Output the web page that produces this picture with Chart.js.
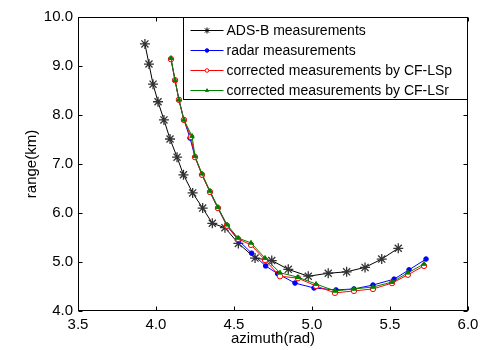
<!DOCTYPE html>
<html>
<head>
  <title>Range vs Azimuth</title>
  <script src="https://cdn.jsdelivr.net/npm/chart.js"></script>
  <style>
    body { margin: 0; background: #fff; }
  </style>
</head>
<body>
  <canvas id="chart" width="487" height="350"></canvas>

  <script>
    const seriesLabels = ['ADS-B measurements', 'radar measurements',
      'corrected measurements by CF-LSp', 'corrected measurements by CF-LSr'];

    const adsbAz = [3.929, 3.955, 3.981, 4.013, 4.051, 4.090, 4.135, 4.176, 4.235, 4.299, 4.361,
      4.442, 4.528, 4.635, 4.742, 4.848, 4.976, 5.104, 5.222, 5.340, 5.447, 5.553];
    const adsbRange = [9.45, 9.04, 8.63, 8.27, 7.90, 7.51, 7.14, 6.78, 6.41, 6.10, 5.79,
      5.70, 5.38, 5.08, 5.03, 4.85, 4.71, 4.77, 4.80, 4.89, 5.06, 5.28];

    const radarAz = [4.096, 4.122, 4.147, 4.179, 4.218, 4.250, 4.295, 4.346, 4.397, 4.455, 4.526,
      4.613, 4.703, 4.780, 4.891, 5.013, 5.154, 5.269, 5.391, 5.526, 5.622, 5.731];
    const radarRange = [9.14, 8.71, 8.31, 7.90, 7.53, 7.14, 6.78, 6.43, 6.10, 5.74, 5.45,
      5.18, 4.92, 4.76, 4.57, 4.47, 4.43, 4.45, 4.53, 4.65, 4.84, 5.06];

    const lspAz = [4.096, 4.122, 4.147, 4.179, 4.224, 4.250, 4.295, 4.346, 4.397, 4.455, 4.526,
      4.609, 4.699, 4.795, 4.910, 5.026, 5.147, 5.269, 5.391, 5.513, 5.615, 5.718];
    const lspRange = [9.14, 8.71, 8.31, 7.90, 7.55, 7.14, 6.78, 6.43, 6.10, 5.74, 5.47,
      5.35, 5.04, 4.71, 4.67, 4.51, 4.37, 4.41, 4.45, 4.57, 4.74, 4.92];

    const lsrAz = [4.096, 4.122, 4.147, 4.179, 4.231, 4.250, 4.295, 4.346, 4.397, 4.455, 4.526,
      4.609, 4.699, 4.795, 4.910, 5.026, 5.147, 5.269, 5.391, 5.513, 5.615, 5.718];
    const lsrRange = [9.16, 8.71, 8.31, 7.90, 7.57, 7.16, 6.80, 6.45, 6.12, 5.76, 5.49,
      5.39, 5.08, 4.78, 4.69, 4.55, 4.41, 4.45, 4.49, 4.59, 4.78, 4.96];

    const xTicks = [3.5, 4.0, 4.5, 5.0, 5.5, 6.0];
    const yTicks = [4, 5, 6, 7, 8, 9, 10];

    function zip(xs, ys) {
      return xs.map((x, i) => ({ x: x, y: ys[i] }));
    }

    // matlab style frame, inward ticks on all sides, legend box in the corner
    const matlabFrame = {
      id: 'matlabFrame',
      afterDraw(chart) {
        const ctx = chart.ctx;
        const a = chart.chartArea;
        const xs = chart.scales.x, ys = chart.scales.y;
        const L = Math.round(a.left) + 0.5, R = Math.round(a.right) - 0.5;
        const T = Math.round(a.top) + 0.5, B = Math.round(a.bottom) - 0.5;
        ctx.save();
        ctx.strokeStyle = '#000';
        ctx.lineWidth = 1;
        ctx.strokeRect(L, T, R - L, B - T);
        ctx.beginPath();
        xTicks.forEach(v => {
          const px = Math.round(xs.getPixelForValue(v)) + 0.5;
          ctx.moveTo(px, B); ctx.lineTo(px, B - 4);
          ctx.moveTo(px, T); ctx.lineTo(px, T + 4);
        });
        yTicks.forEach(v => {
          const py = Math.round(ys.getPixelForValue(v)) + 0.5;
          ctx.moveTo(L, py); ctx.lineTo(L + 4, py);
          ctx.moveTo(R, py); ctx.lineTo(R - 4, py);
        });
        ctx.stroke();

        // legend
        const w = 284, h = 82;
        const lx = R - w, ly = T;
        ctx.fillStyle = '#fff';
        ctx.fillRect(lx, ly, w, h);
        ctx.strokeRect(lx, ly, w, h);
        ctx.font = '14px "Liberation Sans", Arial, sans-serif';
        ctx.textBaseline = 'middle';
        chart.data.datasets.forEach((ds, i) => {
          const yy = ly + 13 + i * 20;
          ctx.strokeStyle = ds.borderColor;
          ctx.fillStyle = ds.pointBackgroundColor || ds.backgroundColor;
          ctx.lineWidth = 1;
          ctx.beginPath();
          ctx.moveTo(lx + 7, yy);
          ctx.lineTo(lx + 40, yy);
          ctx.stroke();
          Chart.helpers.drawPoint(ctx, {
            pointStyle: ds.pointStyle,
            radius: ds.pointStyle === 'star' ? 3 : 1.8,
            borderWidth: 1,
            rotation: 0
          }, lx + 23.5, yy);
          ctx.fillStyle = '#000';
          ctx.fillText(ds.label, lx + 43, yy + 1);
        });
        ctx.restore();
      }
    };

    const tickFont = { family: '"Liberation Sans", Arial, sans-serif', size: 15 };

    new Chart(document.getElementById('chart'), {
      type: 'line',
      data: {
        datasets: [
          {
            label: seriesLabels[0],
            data: zip(adsbAz, adsbRange),
            borderColor: '#000',
            backgroundColor: '#000',
            pointStyle: 'star',
            pointRadius: 5,
            pointBorderColor: '#333',
            pointBorderWidth: 1.3,
            borderWidth: 1,
            order: 3
          },
          {
            label: seriesLabels[1],
            data: zip(radarAz, radarRange),
            borderColor: '#0000ff',
            backgroundColor: '#0000ff',
            pointStyle: 'circle',
            pointRadius: 2.3,
            pointBorderWidth: 1,
            borderWidth: 1,
            order: 2
          },
          {
            label: seriesLabels[2],
            data: zip(lspAz, lspRange),
            borderColor: '#ff0000',
            backgroundColor: '#ff0000',
            pointBackgroundColor: '#ffffff',
            pointStyle: 'circle',
            pointRadius: 2.7,
            pointBorderWidth: 1,
            borderWidth: 1,
            order: 1
          },
          {
            label: seriesLabels[3],
            data: zip(lsrAz, lsrRange),
            borderColor: '#008000',
            backgroundColor: '#008000',
            pointStyle: 'triangle',
            pointRadius: 2.6,
            pointBorderWidth: 1,
            borderWidth: 1,
            order: 0
          }
        ]
      },
      options: {
        responsive: false,
        animation: false,
        layout: { padding: { left: 0, top: 17, right: 19, bottom: 0 } },
        plugins: {
          legend: { display: false },
          tooltip: { enabled: false }
        },
        scales: {
          x: {
            type: 'linear',
            min: 3.5,
            max: 6.0,
            afterBuildTicks: s => { s.ticks = xTicks.map(v => ({ value: v })); },
            afterFit: s => { s.height = 39; },
            grid: { display: false, drawTicks: false },
            border: { display: false },
            ticks: {
              color: '#000',
              font: tickFont,
              padding: 5,
              maxRotation: 0,
              callback: v => Number(v).toFixed(1)
            },
            title: {
              display: true,
              text: 'azimuth(rad)',
              color: '#000',
              font: tickFont,
              padding: { top: 0, bottom: 2 }
            }
          },
          y: {
            type: 'linear',
            min: 4,
            max: 10,
            afterBuildTicks: s => { s.ticks = yTicks.map(v => ({ value: v })); },
            afterFit: s => { s.width = 78; },
            grid: { display: false, drawTicks: false },
            border: { display: false },
            ticks: {
              color: '#000',
              font: tickFont,
              padding: 5,
              callback: v => Number(v).toFixed(1)
            },
            title: {
              display: true,
              text: 'range(km)',
              color: '#000',
              font: tickFont,
              padding: { top: 23, bottom: 0 }
            }
          }
        }
      },
      plugins: [matlabFrame]
    });
  </script>
</body>
</html>
